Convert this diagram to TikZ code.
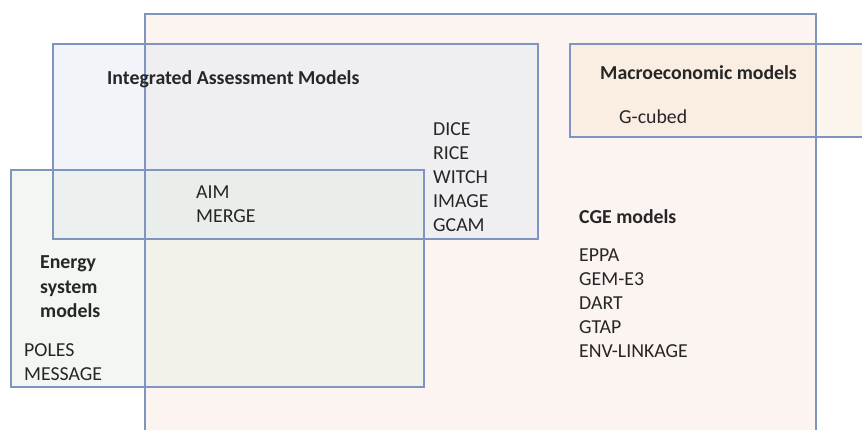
\documentclass[tikz,border=0pt]{standalone}
\usepackage{fontspec}
\setmainfont{Carlito}
\definecolor{edge}{RGB}{128,148,194}
\definecolor{cgefill}{RGB}{252,244,241}
\definecolor{iamfill}{RGB}{225,235,245}
\definecolor{enfill}{RGB}{230,238,226}
\definecolor{macfill}{RGB}{246,226,198}
\definecolor{txt}{RGB}{38,38,38}
\tikzset{
  boxline/.style={draw=edge,line width=1.6pt},
  lbl/.style={inner sep=0pt,anchor=base west,align=left,text=txt,
    font=\fontsize{19.8}{24}\selectfont},
  title/.style={lbl,font=\fontsize{19.8}{24}\selectfont\bfseries},
}
\begin{document}
\begin{tikzpicture}[x=1pt,y=-1pt]
\useasboundingbox (0,0) rectangle (862,430);
\clip (0,0) rectangle (862,430);
\fill[white] (0,0) rectangle (862,430);
% fills
\fill[cgefill] (145,14) rectangle (816,440);
\fill[iamfill,fill opacity=0.45] (53,44) rectangle (538,239);
\fill[enfill,fill opacity=0.45] (11,170) rectangle (424,387);
\fill[macfill,fill opacity=0.32] (570,44) rectangle (880,137);
% outlines
\draw[boxline] (145,14) rectangle (816,440);
\draw[boxline] (53,44) rectangle (538,239);
\draw[boxline] (11,170) rectangle (424,387);
\draw[boxline] (570,44) rectangle (880,137);
% texts (multi-line nodes are anchored at the baseline of their last line)
\node[title] (iam) at (107,84.5) {Integrated Assessment Models};
\node[lbl] (iamlist) at (433,231.5) {DICE\\RICE\\WITCH\\IMAGE\\GCAM};
\node[lbl] (both) at (196,223) {AIM\\MERGE};
\node[title] (en) at (40,317) {Energy\\system\\models};
\node[lbl] (enlist) at (24,380) {POLES\\MESSAGE};
\node[title] (mac) at (600,80) {Macroeconomic models};
\node[lbl] (maclist) at (619,123.5) {G-cubed};
\node[title] (cge) at (579,223.5) {CGE models};
\node[lbl] (cgelist) at (579,357) {EPPA\\GEM-E3\\DART\\GTAP\\ENV-LINKAGE};
\end{tikzpicture}
\end{document}
